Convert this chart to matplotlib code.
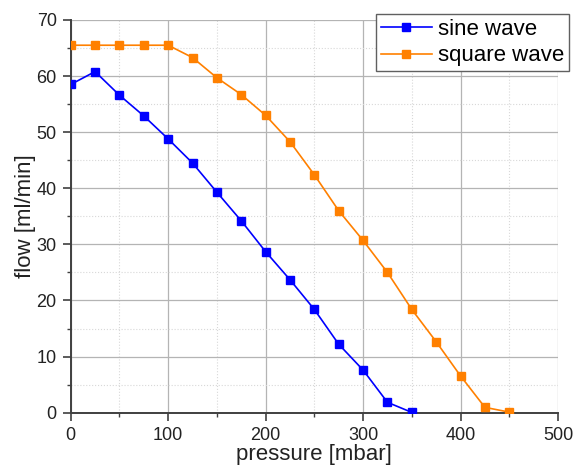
import matplotlib.pyplot as plt
from matplotlib.ticker import MultipleLocator

# pressure [mbar]
druck_sinus = [0, 25, 50, 75, 100, 125, 150, 175, 200, 225, 250, 275, 300, 325, 350]
fluss_sinus = [58.5, 60.8, 56.6, 52.9, 48.8, 44.5, 39.3, 34.2, 28.7, 23.7, 18.4, 12.2, 7.6, 1.85, 0.05]

druck_rechteck = [0, 25, 50, 75, 100, 125, 150, 175, 200, 225, 250, 275, 300, 325, 350, 375, 400, 425, 450]
fluss_rechteck = [65.5, 65.5, 65.5, 65.5, 65.5, 63.3, 59.7, 56.7, 53.0, 48.3, 42.4, 36.0, 30.7, 25.0,
                  18.4, 12.65, 6.55, 0.95, 0.1]

plt.rcParams['font.family'] = ['Liberation Sans', 'DejaVu Sans']

fig = plt.figure(figsize=(5.78, 4.68), dpi=100)
ax = fig.add_axes([0.1223, 0.1182, 0.8431, 0.8391])

ax.plot(druck_sinus, fluss_sinus, color='#0000ff', marker='s', markersize=5.5,
        linewidth=1.2, label='sine wave', zorder=3)
ax.plot(druck_rechteck, fluss_rechteck, color='#ff8000', marker='s', markersize=5.5,
        linewidth=1.2, label='square wave', zorder=3)

ax.set_xlim(0, 500)
ax.set_ylim(0, 70)
ax.xaxis.set_major_locator(MultipleLocator(100))
ax.xaxis.set_minor_locator(MultipleLocator(50))
ax.yaxis.set_major_locator(MultipleLocator(10))
ax.yaxis.set_minor_locator(MultipleLocator(5))

# Gitter wie im Original
ax.grid(True, which='major', color='#b4b4b4', linewidth=0.9, linestyle='-')
ax.grid(True, which='minor', color='#d8d8d8', linewidth=0.8, linestyle=':')
ax.set_axisbelow(True)

for s in ['top', 'right']:
    ax.spines[s].set_visible(False)
for s in ['left', 'bottom']:
    ax.spines[s].set_color('#404040')
    ax.spines[s].set_linewidth(1.4)

ax.tick_params(which='major', direction='out', length=5.8, width=1.2, color='#404040',
               labelsize=13, labelcolor='#222222', pad=4.3)
ax.tick_params(which='minor', direction='out', length=2.9, width=1.0, color='#404040')

ax.set_xlabel('pressure [mbar]', fontsize=16, color='#222222', labelpad=0)
ax.set_ylabel('flow [ml/min]', fontsize=16, color='#222222', labelpad=0.5)

leg = ax.legend(loc='upper right', bbox_to_anchor=(0.9844, 0.9694), bbox_transform=fig.transFigure,
                borderaxespad=0, fontsize=16, frameon=True, fancybox=False, framealpha=1,
                edgecolor='#606060', numpoints=1, handlelength=2.3, handletextpad=0.3,
                borderpad=0.2, labelspacing=0.25, markerscale=1.1)
leg.get_frame().set_linewidth(1.0)

fig.savefig('out.png', dpi=100)
